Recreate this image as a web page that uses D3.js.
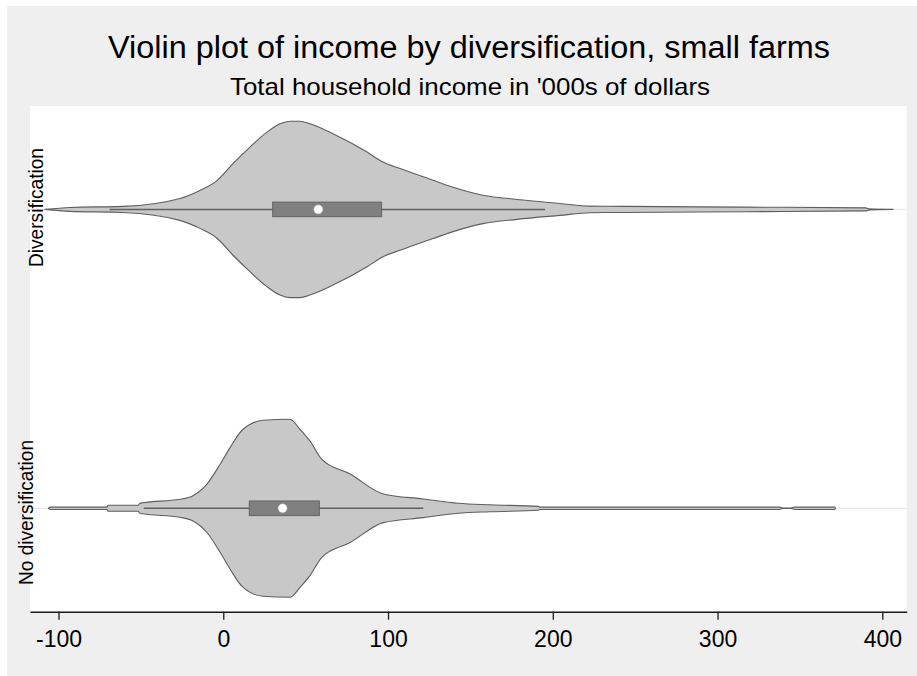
<!DOCTYPE html>
<html>
<head>
<meta charset="utf-8">
<script src="https://cdn.jsdelivr.net/npm/d3@7"></script>
<style>
  html, body { margin: 0; padding: 0; background: #ffffff; }
  svg { display: block; }
  text { font-family: "Liberation Sans", Arial, "DejaVu Sans", sans-serif; fill: #000; }
</style>
</head>
<body>
<svg id="chart" width="917" height="676"></svg>
<script>
// Groups shown on the vertical axis
const categories = ["Diversification", "No diversification"];

// Kernel density of household income ('000s $), as [income, relative density]
const divDensity = [
  [-108.3, 0], [-93, 0.022], [-60.9, 0.034], [-26.3, 0.123], [-14.2, 0.213],
  [-3.8, 0.324], [5.9, 0.515], [16.2, 0.700], [26.5, 0.868], [34.4, 0.962],
  [40.5, 0.991], [46.6, 0.991], [52.6, 0.962], [66.6, 0.850], [87.3, 0.644],
  [96.9, 0.532], [107.3, 0.459], [127.3, 0.328], [137.6, 0.261], [157.6, 0.160],
  [178.3, 0.112], [204.3, 0.067], [222.6, 0.037], [243.8, 0.034], [316.6, 0.026],
  [390, 0.017], [392, 0.006], [406.5, 0]
];
const noDivDensity = [
  [-106.2, 0], [-105, 0.013], [-70.6, 0.013], [-70, 0.034], [-51.7, 0.034],
  [-50.6, 0.056], [-48.8, 0.062], [-26.3, 0.101], [-18.4, 0.142], [-9.9, 0.272],
  [-2, 0.492], [4.1, 0.682], [11.4, 0.877], [24.1, 0.989], [40.5, 1.0],
  [46.6, 0.888], [52.6, 0.757], [59.7, 0.553], [77, 0.385], [97.1, 0.161],
  [121.4, 0.105], [142.6, 0.056], [161.9, 0.039], [191.2, 0.022], [192.2, 0.013],
  [337.3, 0.013], [339.7, 0.003], [344.6, 0.003], [347, 0.013], [371.2, 0.013],
  [371.5, 0]
];
const densities = [divDensity, noDivDensity];

// Box-plot summaries per group (same order as categories)
const boxQ1 = [30.0, 15.8];
const boxMedian = [57.7, 36.0];
const boxQ3 = [96.1, 58.3];
const whiskerLow = [-69.0, -48.2];
const whiskerHigh = [195.3, 121.4];

const xTicks = [-100, 0, 100, 200, 300, 400];

const titleText = "Violin plot of income by diversification, small farms";
const subtitleText = "Total household income in '000s of dollars";

// ---- layout ----
const W = 917, H = 676;
const plot = { left: 30, right: 906.7, top: 106, bottom: 611.7 };

const svg = d3.select("#chart");

// outer graph region
svg.append("rect").attr("x", 7).attr("y", 6).attr("width", W - 7).attr("height", H - 6)
  .attr("fill", "#efefef");
// plot region
svg.append("rect").attr("x", plot.left).attr("y", plot.top)
  .attr("width", plot.right - plot.left).attr("height", plot.bottom - plot.top)
  .attr("fill", "#ffffff");

const x = d3.scaleLinear().domain([-117.3, 414.8]).range([plot.left, plot.right]);
const y = d3.scalePoint().domain(categories).range([plot.top, plot.bottom]).padding(0.346);
const maxD = d3.max(densities.flat(), d => d[1]);
const w = d3.scaleLinear().domain([0, maxD]).range([0, 89]);

// horizontal reference lines at each group
svg.append("g").selectAll("line").data(categories).join("line")
  .attr("x1", plot.left).attr("x2", plot.right)
  .attr("y1", d => y(d)).attr("y2", d => y(d))
  .attr("stroke", "#e4e4e4").attr("stroke-width", 1);

// violins
categories.forEach((cat, i) => {
  const cy = y(cat);
  const area = d3.area()
    .curve(d3.curveMonotoneX)
    .x(d => x(d[0]))
    .y0(d => cy - w(d[1]))
    .y1(d => cy + w(d[1]));
  svg.append("path").datum(densities[i])
    .attr("d", area)
    .attr("fill", "#c8c8c8")
    .attr("stroke", "#5e5e5e")
    .attr("stroke-width", 1.1)
    .attr("stroke-linejoin", "round");

  // whisker between adjacent values
  svg.append("line")
    .attr("x1", x(whiskerLow[i])).attr("x2", x(whiskerHigh[i]))
    .attr("y1", cy).attr("y2", cy)
    .attr("stroke", "#606060").attr("stroke-width", 1.5);

  // interquartile box
  svg.append("rect")
    .attr("x", x(boxQ1[i])).attr("y", cy - 7.3)
    .attr("width", x(boxQ3[i]) - x(boxQ1[i])).attr("height", 14.6)
    .attr("fill", "#808080").attr("stroke", "#646464").attr("stroke-width", 1);

  // median marker
  svg.append("circle")
    .attr("cx", x(boxMedian[i])).attr("cy", cy).attr("r", 4.6)
    .attr("fill", "#ffffff").attr("stroke", "#9a9a9a").attr("stroke-width", 0.5);

  // group label
  const labelX = i === 0 ? 43 : 33;
  const labelY = i === 0 ? 207.5 : 512.5;
  svg.append("text")
    .attr("transform", `translate(${labelX},${labelY}) rotate(-90)`)
    .attr("text-anchor", "middle")
    .attr("font-size", 20)
    .attr("textLength", i === 0 ? 119 : 145)
    .attr("lengthAdjust", "spacingAndGlyphs")
    .text(cat);
});

// x axis
const axis = svg.append("g")
  .attr("transform", `translate(0,${plot.bottom})`)
  .call(d3.axisBottom(x).tickValues(xTicks).tickSize(8).tickSizeOuter(0).tickPadding(11)
    .tickFormat(d => String(d)));
axis.select(".domain").attr("stroke", "#1a1a1a").attr("stroke-width", 1.4);
axis.selectAll(".tick line").attr("stroke", "#1a1a1a").attr("stroke-width", 1.3);
axis.selectAll(".tick text")
  .attr("font-size", 23)
  .attr("font-family", "\"Liberation Sans\", Arial, sans-serif")
  .attr("fill", "#000");

// titles
svg.append("text")
  .attr("x", 469).attr("y", 58.3)
  .attr("text-anchor", "middle")
  .attr("font-size", 31)
  .attr("textLength", 722)
  .attr("lengthAdjust", "spacingAndGlyphs")
  .text(titleText);
svg.append("text")
  .attr("x", 470).attr("y", 95)
  .attr("text-anchor", "middle")
  .attr("font-size", 24)
  .attr("textLength", 480)
  .attr("lengthAdjust", "spacingAndGlyphs")
  .text(subtitleText);
</script>
</body>
</html>
